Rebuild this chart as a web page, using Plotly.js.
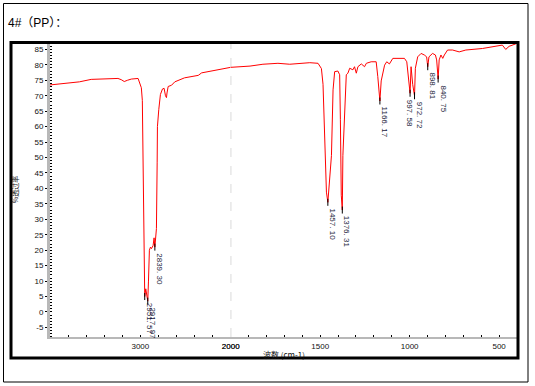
<!DOCTYPE html>
<html>
<head>
<meta charset="utf-8">
<script src="https://cdn.plot.ly/plotly-3.0.1.min.js"></script>
<style>html,body{margin:0;padding:0;background:#fff;}#chart{width:535px;height:386px;}</style>
</head>
<body>
<div id="chart"></div>
<script>
// Wavenumbers (cm-1), descending
const wavenumbers = [4000,3897,3786,3675,3544,3433,3322,3248,3211,3178,3144,3100,3025,3000,2989,2978,2970,2963,2956,2951.57,2940,2930,2917.97,2910,2900,2888,2877,2859,2848,2839.30,2822,2814,2811,2796,2778,2755,2737,2722,2711,2705,2692,2655,2619,2511,2359,2322,2192,2081,2000,
1892,1820,1736,1670,1614,1558,1512,1493,1484,1475,1465,1457.10,1447,1437,1428,1419,1401,1391,1387,1382,1376.31,1373,1354,1345,1335,1317,1308,1298,1289,1270,1252,1242,1215,1187,1178,1166.17,1159,1140,1128,1113,1094,1057,1029,1016,1005,997.58,992,983,972.72,968,955,936,918,905,898.81,892,872,856,849,840.75,835,825,815,806,788,760,723,686,593,537,482,463,444,407,400];
// Transmittance (%)
const transmittance = [73.5,73.8,74.0,74.5,75.3,75.5,75.5,75.6,75.2,74.6,75.0,75.4,75.6,73.7,72.6,68.5,45,23.5,10,5.0,7.5,6,3.5,10,20,21,20.5,21.5,24,21,27,48.5,60,65.5,70.4,72.2,72.4,70,69.4,70.9,73,73.4,74.5,75.8,76.6,77.4,78.2,78.9,79.2,
79.6,80.2,80.5,80.2,80.5,80.7,80.5,78.8,73.7,55.9,38.8,35.5,43,50.6,71.9,77.8,78.0,76.8,62.4,37.8,33,50.6,76.8,77.3,78.9,78.4,79.4,77.3,79.4,80.3,79.4,80.5,81.0,81.0,76.2,68.3,74.8,79.9,81.0,80.3,82.1,82.1,82.1,81.0,73.7,70.8,79.4,73.7,70.0,78.9,82.6,83.7,83.2,82.6,79.4,82.6,83.7,83.2,81.6,75.4,81.6,83.2,82.1,83.2,84.8,84.8,84.2,84.8,85.3,85.8,86.4,85.0,86.0,86.8,87.0];

// Labelled peaks
const peakWn = [2951.57, 2917.97, 2839.30, 1457.10, 1376.31, 1166.17, 997.58, 972.72, 898.81, 840.75];
const peakLabels = ["2951. 57","2917. 97","2839. 30","1457. 10","1376. 31","1166. 17","997. 58","972. 72","898. 81","840. 75"];

// Axis ticks
const yTicks = [-5,0,5,10,15,20,25,30,35,40,45,50,55,60,65,70,75,80,85];
const xTicksHigh = [3000, 2000];
const xTicksLow = [2000, 1500, 1000, 500];

const titleText = "4#（PP）：";
const yTitle = "%透过率";
const xTitle = "波数 (cm-1)";

// Split into high (compressed) and low wavenumber segments
const hiX = [], hiY = [], loX = [], loY = [];
wavenumbers.forEach((w, i) => {
  if (w >= 2000) { hiX.push(w); hiY.push(transmittance[i]); }
  if (w <= 2000) { loX.push(w); loY.push(transmittance[i]); }
});
const peakT = peakWn.map(w => transmittance[wavenumbers.indexOf(w)]);

const lineStyle = {color: '#ff0000', width: 1};
const tickMarker = {symbol: 'line-ns-open', size: 5, color: '#000', line: {color: '#000', width: 1}};
const traces = [
  {x: hiX, y: hiY, xaxis: 'x', yaxis: 'y', mode: 'lines', line: lineStyle, hoverinfo: 'skip'},
  {x: loX, y: loY, xaxis: 'x2', yaxis: 'y', mode: 'lines', line: lineStyle, hoverinfo: 'skip'},
  {x: peakWn.filter(w => w > 2000), y: peakT.filter((t, i) => peakWn[i] > 2000), xaxis: 'x', yaxis: 'y', mode: 'markers',
   marker: tickMarker, hoverinfo: 'skip'},
  {x: peakWn.filter(w => w < 2000), y: peakT.filter((t, i) => peakWn[i] < 2000), xaxis: 'x2', yaxis: 'y', mode: 'markers',
   marker: tickMarker, hoverinfo: 'skip'}
];

// Pixel geometry of plot area: x 50..517, y 42..337
const L = 50, R = 517, T = 42, B = 337;
const W = R - L, H = B - T;
const px = v => (v - L) / W;
const py = v => (B - v) / H;
const splitFrac = 180.7 / W;

const tickFont = {family: 'Liberation Sans, Arial, sans-serif', size: 8, color: '#111'};

const annotations = peakWn.map((w, i) => ({
  x: w, y: peakT[i], xref: w > 2000 ? 'x' : 'x2', yref: 'y',
  text: peakLabels[i], showarrow: false, textangle: 90,
  xanchor: 'center', yanchor: 'top', xshift: (w > 990 && w < 1000) ? -1 : 5, yshift: -4,
  font: {family: 'Liberation Sans, Arial, sans-serif', size: 8, color: '#1a1a3a'}
}));
annotations.push({
  x: 0.5, y: py(354), xref: 'paper', yref: 'paper', showarrow: false,
  text: xTitle, xanchor: 'center', yanchor: 'middle',
  font: {family: 'Noto Sans CJK SC, sans-serif', size: 8, color: '#111'}
});

const layout = {
  width: 535, height: 386,
  margin: {l: L, r: 535 - R, t: T, b: 386 - B, pad: 0},
  paper_bgcolor: '#fff', plot_bgcolor: '#fff',
  showlegend: false,
  title: {text: titleText, x: 8 / 535, xanchor: 'left', xref: 'container', y: 1 - 23 / 386, yref: 'container', yanchor: 'middle',
          font: {family: 'Liberation Sans, Noto Sans CJK SC, sans-serif', size: 12, color: '#000'}},
  xaxis: {domain: [0, splitFrac], range: [4000, 2000], anchor: 'y',
          tickmode: 'array', tickvals: xTicksHigh, ticktext: xTicksHigh.map(String),
          ticks: 'inside', ticklen: 2, tickcolor: '#000', tickfont: tickFont,
          minor: {dtick: 200, tick0: 0, ticks: 'inside', ticklen: 2, tickcolor: '#000'},
          showline: true, linecolor: '#b8b8b8', linewidth: 2, showgrid: false, zeroline: false},
  xaxis2: {domain: [splitFrac, 1], range: [2000, 400], anchor: 'y',
          tickmode: 'array', tickvals: xTicksLow, ticktext: xTicksLow.map(String),
          ticks: 'inside', ticklen: 2, tickcolor: '#000', tickfont: tickFont,
          minor: {dtick: 100, tick0: 0, ticks: 'inside', ticklen: 2, tickcolor: '#000'},
          showline: true, linecolor: '#b8b8b8', linewidth: 2, showgrid: false, zeroline: false},
  yaxis: {range: [-8.1, 87.4], tickmode: 'array', tickvals: yTicks, ticktext: yTicks.map(String),
          ticks: 'outside', ticklen: 2, tickcolor: '#000', tickfont: tickFont,
          minor: {dtick: 1, tick0: 0, ticks: 'inside', ticklen: 1.5, tickcolor: '#000'},
          showline: true, linecolor: '#b8b8b8', linewidth: 3, showgrid: false, zeroline: false,
          title: {text: yTitle, standoff: 16, font: {family: 'Noto Sans CJK SC, sans-serif', size: 7, color: '#111'}}},
  shapes: [
    {type: 'line', xref: 'x2', yref: 'paper', x0: 2000, x1: 2000, y0: 0, y1: 1,
     line: {color: '#a8a8a8', width: 1, dash: 'dash'}, layer: 'below'},
    {type: 'rect', xref: 'paper', yref: 'paper', x0: px(11), x1: px(518), y0: py(358), y1: py(42.5),
     line: {color: '#000', width: 3}, fillcolor: 'rgba(0,0,0,0)'},
    {type: 'rect', xref: 'paper', yref: 'paper', x0: px(3.5), x1: px(528), y0: py(382), y1: py(3.5),
     line: {color: '#000', width: 1}, fillcolor: 'rgba(0,0,0,0)'}
  ],
  annotations: annotations
};

Plotly.newPlot('chart', traces, layout, {staticPlot: true, displayModeBar: false});
</script>
</body>
</html>
